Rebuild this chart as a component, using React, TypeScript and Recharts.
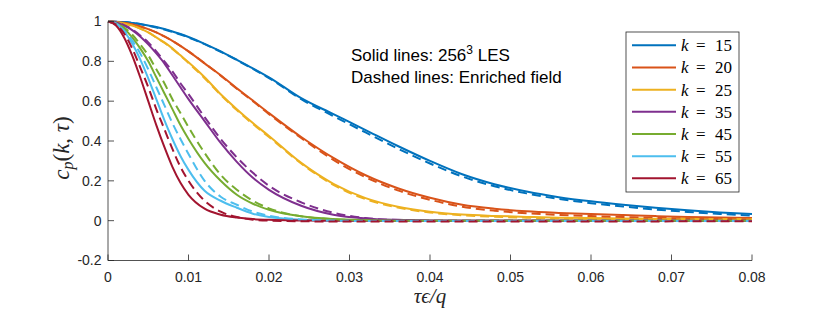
import { LineChart, Line, XAxis, YAxis } from 'recharts'

// time lags (tau * eps / q)
const tValues = [0, 0.001, 0.002, 0.003, 0.004, 0.005, 0.006, 0.007, 0.008, 0.009, 0.01, 0.012, 0.014, 0.016, 0.018, 0.02, 0.024, 0.028, 0.032, 0.036, 0.04, 0.044, 0.048, 0.052, 0.056, 0.06, 0.064, 0.068, 0.072, 0.076, 0.08]

// solid: 256^3 LES
const k15Les = [1, 0.999, 0.997, 0.993, 0.988, 0.98, 0.972, 0.962, 0.95, 0.937, 0.922, 0.888, 0.85, 0.808, 0.765, 0.72, 0.615, 0.535, 0.455, 0.375, 0.3, 0.233, 0.183, 0.146, 0.118, 0.097, 0.08, 0.065, 0.052, 0.041, 0.033]
const k20Les = [1, 0.998, 0.994, 0.986, 0.975, 0.962, 0.945, 0.925, 0.903, 0.878, 0.85, 0.79, 0.73, 0.665, 0.603, 0.54, 0.42, 0.315, 0.228, 0.163, 0.115, 0.08, 0.06, 0.047, 0.039, 0.033, 0.028, 0.023, 0.019, 0.016, 0.013]
const k25Les = [1, 0.998, 0.99, 0.98, 0.965, 0.945, 0.92, 0.895, 0.865, 0.83, 0.795, 0.72, 0.635, 0.56, 0.49, 0.425, 0.29, 0.185, 0.113, 0.07, 0.045, 0.031, 0.024, 0.019, 0.015, 0.013, 0.011, 0.01, 0.009, 0.008, 0.008]
const k35Les = [1, 0.995, 0.98, 0.957, 0.925, 0.885, 0.84, 0.79, 0.73, 0.67, 0.61, 0.5, 0.39, 0.295, 0.215, 0.155, 0.075, 0.03, 0.011, 0.004, 0.001, 0, 0, 0, 0, 0, 0, 0, 0, 0, 0]
const k45Les = [1, 0.99, 0.965, 0.92, 0.865, 0.8, 0.72, 0.64, 0.56, 0.48, 0.41, 0.29, 0.2, 0.13, 0.085, 0.055, 0.022, 0.008, 0.003, 0.001, 0, 0, 0, 0, 0, 0, 0, 0, 0, 0, 0]
const k55Les = [1, 0.99, 0.95, 0.89, 0.81, 0.715, 0.61, 0.505, 0.41, 0.325, 0.255, 0.15, 0.1, 0.065, 0.035, 0.018, 0.005, 0.001, 0, 0, 0, 0, 0, 0, 0, 0, 0, 0, 0, 0, 0]
const k65Les = [1, 0.98, 0.92, 0.83, 0.72, 0.6, 0.48, 0.37, 0.27, 0.19, 0.13, 0.06, 0.03, 0.016, 0.008, 0.004, 0.001, 0, 0, 0, 0, 0, 0, 0, 0, 0, 0, 0, 0, 0, 0]

// dashed: enriched field
const k15Enr = [1, 0.999, 0.997, 0.993, 0.987, 0.979, 0.97, 0.96, 0.948, 0.935, 0.92, 0.886, 0.848, 0.806, 0.762, 0.716, 0.61, 0.525, 0.443, 0.362, 0.287, 0.222, 0.173, 0.137, 0.109, 0.088, 0.071, 0.056, 0.044, 0.034, 0.026]
const k20Enr = [1, 0.998, 0.994, 0.986, 0.975, 0.962, 0.945, 0.925, 0.902, 0.877, 0.85, 0.79, 0.728, 0.662, 0.6, 0.535, 0.415, 0.305, 0.218, 0.152, 0.105, 0.07, 0.05, 0.037, 0.029, 0.023, 0.018, 0.014, 0.011, 0.009, 0.007]
const k25Enr = [1, 0.998, 0.99, 0.98, 0.965, 0.945, 0.92, 0.893, 0.862, 0.828, 0.792, 0.715, 0.632, 0.555, 0.485, 0.42, 0.287, 0.18, 0.108, 0.066, 0.041, 0.027, 0.02, 0.015, 0.012, 0.01, 0.008, 0.007, 0.006, 0.005, 0.005]
const k35Enr = [1, 0.996, 0.982, 0.96, 0.93, 0.895, 0.85, 0.8, 0.75, 0.69, 0.635, 0.52, 0.41, 0.318, 0.24, 0.175, 0.092, 0.04, 0.013, 0.003, 0, 0, 0, 0, 0, 0, 0, 0, 0, 0, 0]
const k45Enr = [1, 0.992, 0.97, 0.935, 0.885, 0.83, 0.76, 0.69, 0.61, 0.54, 0.47, 0.34, 0.23, 0.155, 0.1, 0.062, 0.022, 0.007, 0.002, 0, 0, 0, 0, 0, 0, 0, 0, 0, 0, 0, 0]
const k55Enr = [1, 0.99, 0.955, 0.905, 0.84, 0.76, 0.67, 0.58, 0.49, 0.41, 0.335, 0.2, 0.12, 0.08, 0.045, 0.025, 0.006, 0, -0.002, -0.002, -0.002, -0.002, -0.002, -0.002, -0.002, -0.002, -0.002, -0.002, -0.002, -0.002, -0.002]
const k65Enr = [1, 0.985, 0.94, 0.865, 0.77, 0.67, 0.56, 0.46, 0.36, 0.27, 0.2, 0.1, 0.045, 0.018, 0.005, 0, -0.003, -0.004, -0.004, -0.004, -0.004, -0.004, -0.004, -0.004, -0.004, -0.004, -0.004, -0.004, -0.003, -0.003, -0.003]

const kLabels = ['15', '20', '25', '35', '45', '55', '65']
const colors = ['#0072BD', '#D95319', '#EDB120', '#7E2F8E', '#77AC30', '#4DBEEE', '#A2142F']
const lesSeries = [k15Les, k20Les, k25Les, k35Les, k45Les, k55Les, k65Les]
const enrSeries = [k15Enr, k20Enr, k25Enr, k35Enr, k45Enr, k55Enr, k65Enr]

const xTicks = [0, 0.01, 0.02, 0.03, 0.04, 0.05, 0.06, 0.07, 0.08]
const yTicks = [-0.2, 0, 0.2, 0.4, 0.6, 0.8, 1]

const data = tValues.map((t, i) => {
  const row: Record<string, number> = { t }
  kLabels.forEach((k, j) => {
    row['les' + k] = lesSeries[j][i]
    row['enr' + k] = enrSeries[j][i]
  })
  return row
})

const axisColor = '#262626'
const sans = "'Liberation Sans', Arial, sans-serif"
const serif = "'Liberation Serif', 'DejaVu Serif', serif"
const tickStyle = { fill: axisColor, fontSize: 14, fontFamily: sans }

export default function App() {
  return (
    <div style={{ position: 'relative', width: 830, height: 312, background: '#fff' }}>
      <style>{'body{margin:0}'}</style>
      <LineChart width={830} height={312} data={data} margin={{ top: 21.5, right: 78, bottom: 21.5, left: 48 }}>
        <XAxis
          dataKey="t"
          type="number"
          domain={[0, 0.08]}
          ticks={xTicks}
          tickFormatter={v => String(v)}
          height={30}
          tickSize={-6}
          tickMargin={17.5}
          tick={tickStyle}
          stroke={axisColor}
          axisLine={{ stroke: axisColor, strokeWidth: 0.8 }}
          tickLine={{ stroke: axisColor, strokeWidth: 0.8 }}
        />
        <YAxis
          type="number"
          domain={[-0.2, 1]}
          ticks={yTicks}
          tickFormatter={v => String(v)}
          width={60}
          tickSize={-6}
          tickMargin={12.5}
          tick={tickStyle}
          stroke={axisColor}
          axisLine={{ stroke: axisColor, strokeWidth: 0.8 }}
          tickLine={{ stroke: axisColor, strokeWidth: 0.8 }}
        />
        {kLabels.map((k, j) => (
          <Line key={'les' + k} type="monotone" dataKey={'les' + k} stroke={colors[j]} strokeWidth={2} dot={false} isAnimationActive={false} />
        ))}
        {kLabels.map((k, j) => (
          <Line key={'enr' + k} type="monotone" dataKey={'enr' + k} stroke={colors[j]} strokeWidth={2} strokeDasharray="9 5" dot={false} isAnimationActive={false} />
        ))}
      </LineChart>
      <svg width={830} height={312} style={{ position: 'absolute', left: 0, top: 0, pointerEvents: 'none' }}>
        {/* axis titles */}
        <text x={430} y={303} textAnchor="middle" fontFamily={serif} fontSize={21} fontStyle="italic" fill={axisColor}>
          τϵ/q
        </text>
        <text transform="translate(69,148) rotate(-90)" textAnchor="middle" fontFamily={serif} fontSize={23} fill={axisColor}>
          <tspan fontStyle="italic">c</tspan>
          <tspan fontStyle="italic" fontSize={16} dy={4}>p</tspan>
          <tspan dy={-4}>(</tspan>
          <tspan fontStyle="italic">k</tspan>
          <tspan>, </tspan>
          <tspan fontStyle="italic">τ</tspan>
          <tspan>)</tspan>
        </text>
        {/* annotation */}
        <text x={351} y={61} fontFamily={sans} fontSize={17} fill="#000">
          Solid lines: 256<tspan fontSize={12} dy={-7}>3</tspan><tspan dy={7}> LES</tspan>
        </text>
        <text x={351} y={83} fontFamily={sans} fontSize={17} fill="#000">
          Dashed lines: Enriched field
        </text>
        {/* legend */}
        <rect x={626} y={32} width={113} height={160} fill="#fff" stroke={axisColor} strokeWidth={0.8} />
        {kLabels.map((k, j) => {
          const cy = 45.3 + j * 22.17
          return (
            <g key={k}>
              <line x1={632} x2={676} y1={cy} y2={cy} stroke={colors[j]} strokeWidth={2} />
              <text y={cy + 6} fontFamily={serif} fontSize={17} fill="#000">
                <tspan x={681} fontStyle="italic">k</tspan>
                <tspan x={696}>=</tspan>
                <tspan x={715}>{k}</tspan>
              </text>
            </g>
          )
        })}
      </svg>
    </div>
  )
}
